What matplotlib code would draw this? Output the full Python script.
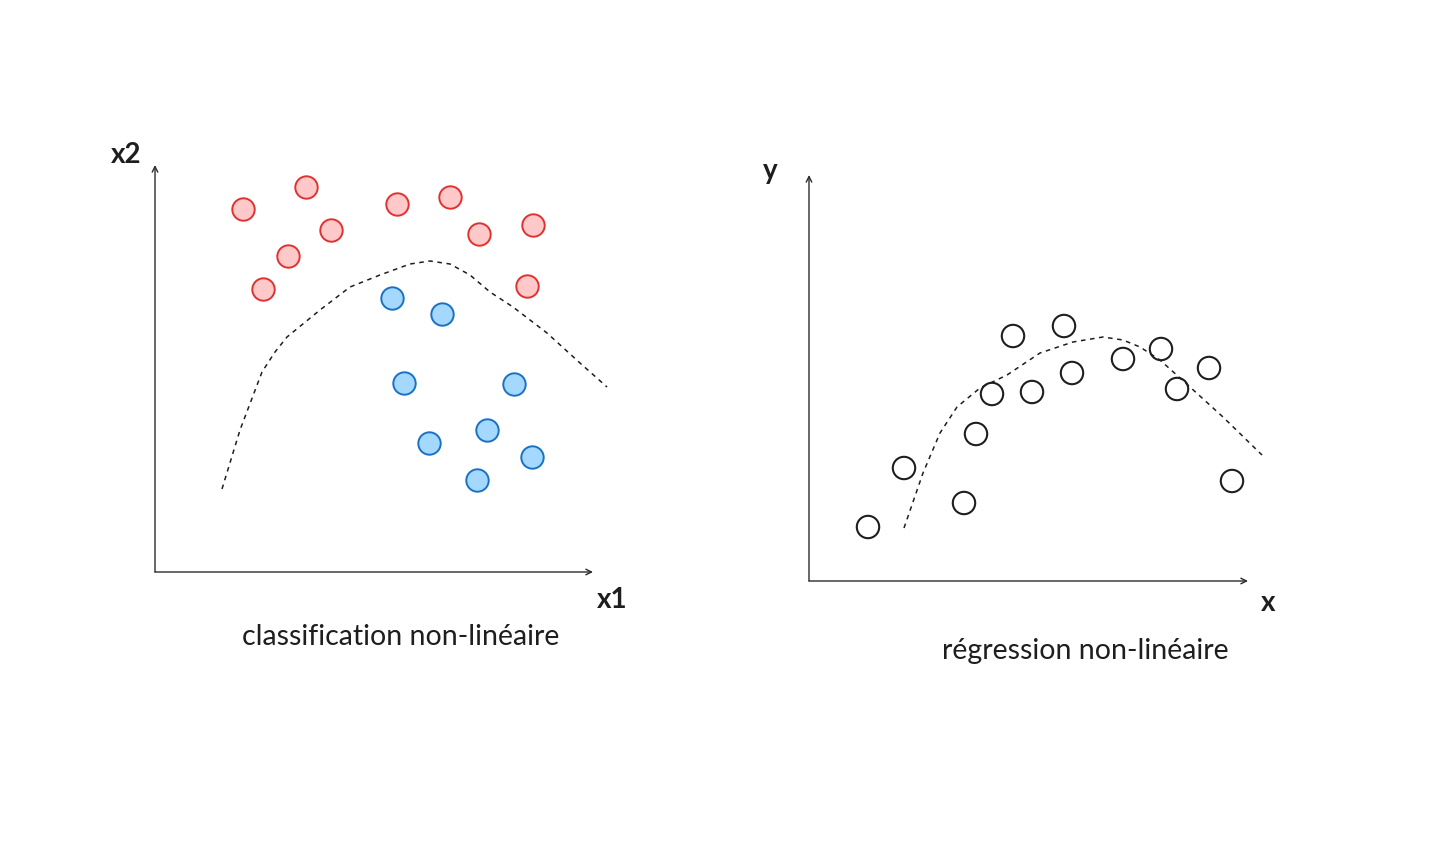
import matplotlib
matplotlib.use("Agg")
import matplotlib.pyplot as plt

W, H = 1453, 846

# ---- left chart data (units: x1, x2) ----
red_x1 = [8.8, 15.1, 17.6, 13.3, 10.8, 24.2, 29.5, 32.4, 37.8, 37.2]
red_x2 = [36.3, 38.5, 34.2, 31.6, 28.3, 36.8, 37.5, 33.8, 34.7, 28.6]
blue_x1 = [23.7, 28.7, 24.9, 35.9, 27.4, 33.2, 37.7, 32.2]
blue_x2 = [27.4, 25.8, 18.9, 18.8, 12.9, 14.2, 11.5, 9.2]
bound_x1 = [6.7, 8.5, 10.7, 12.0, 13.2, 16.5, 19.5, 22.5, 25.5, 27.5, 29.5, 31.5, 33.5, 35.8, 39.2, 42.5, 45.2]
bound_x2 = [8.3, 14.2, 20.0, 22.0, 23.5, 26.2, 28.5, 29.7, 30.8, 31.1, 30.8, 29.7, 28.0, 26.5, 23.9, 20.9, 18.5]

# ---- right chart data (units: x, y) ----
pts_x = [5.9, 9.5, 15.5, 16.7, 18.3, 20.4, 22.3, 25.5, 26.3, 31.4, 35.2, 36.8, 40.0, 42.3]
pts_y = [5.4, 11.3, 7.8, 14.7, 18.7, 24.5, 18.9, 25.5, 20.8, 22.2, 23.2, 19.2, 21.3, 10.0]
fit_x = [9.5, 11.4, 13.1, 14.8, 17.1, 19.8, 23.1, 26.4, 29.4, 31.4, 33.1, 35.1, 38.1, 41.4, 45.3]
fit_y = [5.3, 10.8, 14.8, 17.4, 19.3, 20.6, 22.8, 23.9, 24.4, 24.1, 23.4, 22.1, 19.4, 16.4, 12.6]

left_xmax, left_ymax = 43.8, 40.7
right_xmax, right_ymax = 43.9, 40.6

plt.rcParams['font.family'] = ['Lato', 'DejaVu Sans']
fig = plt.figure(figsize=(W / 100, H / 100), dpi=100)
fig.patch.set_facecolor('white')

def make_ax(x0, y0, x1, y1, xmax, ymax):
    ax = fig.add_axes([x0 / W, 1 - y1 / H, (x1 - x0) / W, (y1 - y0) / H])
    ax.set_xlim(0, xmax)
    ax.set_ylim(0, ymax)
    ax.axis('off')
    arrow = dict(arrowstyle='->', color='#2b2b2b', lw=1.0, shrinkA=0, shrinkB=0,
                 mutation_scale=10)
    ax.annotate('', xy=(xmax, 0), xytext=(0, 0), arrowprops=arrow, annotation_clip=False)
    ax.annotate('', xy=(0, ymax), xytext=(0, 0), arrowprops=arrow, annotation_clip=False)
    return ax

axL = make_ax(155, 165, 593, 572, left_xmax, left_ymax)
axR = make_ax(809, 175, 1248, 581, right_xmax, right_ymax)

ms = 260
axL.plot(bound_x1, bound_x2, color='#1e1e1e', lw=1.1, linestyle=(0, (3, 3)), clip_on=False)
axL.scatter(red_x1, red_x2, s=ms, facecolor='#ffc9c9', edgecolor='#e03131', linewidths=1.4,
            clip_on=False, zorder=3)
axL.scatter(blue_x1, blue_x2, s=ms, facecolor='#a5d8ff', edgecolor='#1971c2', linewidths=1.4,
            clip_on=False, zorder=3)

axR.plot(fit_x, fit_y, color='#1e1e1e', lw=1.1, linestyle=(0, (3, 3)), clip_on=False)
axR.scatter(pts_x, pts_y, s=ms, facecolor='none', edgecolor='#1e1e1e', linewidths=1.5,
            clip_on=False, zorder=3)

def ftext(px, py, s, size, bold=False):
    fig.text(px / W, 1 - py / H, s, ha='center', va='center', fontsize=size, color='#1e1e1e',
             fontweight='bold' if bold else 'normal')

ftext(126, 155, 'x2', 20, True)
ftext(612, 600, 'x1', 20, True)
ftext(401, 637, 'classification non-linéaire', 20.5)
ftext(770, 171, 'y', 20, True)
ftext(1268, 603, 'x', 20, True)
ftext(1085, 651, 'régression non-linéaire', 20.5)

fig.savefig('out.png', dpi=100, facecolor='white')
